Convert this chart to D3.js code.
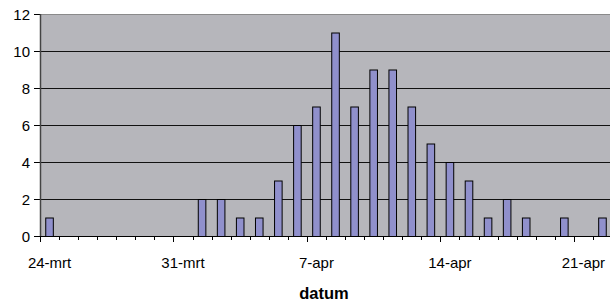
<!DOCTYPE html>
<html>
<head>
<meta charset="utf-8">
<script src="https://cdn.jsdelivr.net/npm/d3@7"></script>
<style>
  body { margin: 0; background: #fff; }
  svg text { font-family: "Liberation Sans", Arial, sans-serif; fill: #000; }
</style>
</head>
<body>
<div class="chart-container"></div>
<script>
// one entry per day, 24-mrt .. 22-apr
var days = ["24-mrt","25-mrt","26-mrt","27-mrt","28-mrt","29-mrt","30-mrt","31-mrt",
            "1-apr","2-apr","3-apr","4-apr","5-apr","6-apr","7-apr","8-apr","9-apr","10-apr",
            "11-apr","12-apr","13-apr","14-apr","15-apr","16-apr","17-apr","18-apr","19-apr",
            "20-apr","21-apr","22-apr"];
var counts = [1,0,0,0,0,0,0,0,2,2,1,1,3,6,7,11,7,9,9,7,5,4,3,1,2,1,0,1,0,1];
var xLabels = ["24-mrt","31-mrt","7-apr","14-apr","21-apr"];
var yTicks = [0,2,4,6,8,10,12];
var xTitle = "datum";

var width = 610, height = 304;
var margin = {top: 14, right: -2, bottom: 68, left: 40},
    plotW = width - margin.left - margin.right,
    plotH = height - margin.top - margin.bottom;

var svg = d3.select(".chart-container")
    .append("svg")
    .attr("width", width)
    .attr("height", height);

var g = svg.append("g")
    .attr("transform", "translate(" + margin.left + "," + margin.top + ")");

var x = d3.scaleBand()
    .domain(days)
    .range([0, plotW])
    .paddingInner(0.55)
    .paddingOuter(0.275);

var y = d3.scaleLinear()
    .domain([0, 12])
    .range([plotH, 0]);

// plot background
g.append("rect")
    .attr("width", plotW)
    .attr("height", plotH)
    .attr("fill", "#b6b6bb");

// gridlines
g.append("g")
    .selectAll("line")
    .data(yTicks.filter(function (d) { return d > 0 && d < 12; }))
    .enter().append("line")
    .attr("x1", 0)
    .attr("x2", plotW)
    .attr("y1", function (d) { return y(d) + 0.5; })
    .attr("y2", function (d) { return y(d) + 0.5; })
    .attr("stroke", "#111")
    .attr("stroke-width", 1);

// top border
g.append("line")
    .attr("x1", 0).attr("x2", plotW)
    .attr("y1", 0.5).attr("y2", 0.5)
    .attr("stroke", "#8a8a8a");

// bars
g.append("g")
    .selectAll("rect")
    .data(days.map(function (d, i) { return {day: d, v: counts[i]}; }).filter(function (d) { return d.v > 0; }))
    .enter().append("rect")
    .attr("x", function (d) { return x(d.day) + 0.5; })
    .attr("y", function (d) { return y(d.v) + 0.5; })
    .attr("width", x.bandwidth() - 1)
    .attr("height", function (d) { return plotH - y(d.v); })
    .attr("fill", "#9090cc")
    .attr("stroke", "#000")
    .attr("stroke-width", 1);

// y axis
var yAxis = g.append("g")
    .call(d3.axisLeft(y).tickValues(yTicks).tickSize(6).tickFormat(d3.format("d")));
yAxis.select(".domain").remove();
yAxis.selectAll(".tick line").attr("stroke", "#000");
yAxis.selectAll(".tick text")
    .attr("x", -10)
    .attr("dy", "0.35em")
    .style("font-size", "15px")
    .style("font-family", "Liberation Sans, Arial, sans-serif");

g.append("line")
    .attr("x1", 0.5).attr("x2", 0.5)
    .attr("y1", 0).attr("y2", plotH)
    .attr("stroke", "#444")
    .attr("stroke-width", 1.5);

// x axis
var step = x.step();
g.append("line")
    .attr("x1", 0).attr("x2", plotW)
    .attr("y1", plotH + 0.5).attr("y2", plotH + 0.5)
    .attr("stroke", "#000");

// tick marks between days, longer every week
g.append("g")
    .selectAll("line")
    .data(d3.range(days.length + 1))
    .enter().append("line")
    .attr("x1", function (i) { return Math.round(i * step) + 0.5; })
    .attr("x2", function (i) { return Math.round(i * step) + 0.5; })
    .attr("y1", plotH)
    .attr("y2", function (i) { return plotH + (i % 7 === 0 ? 6 : 4); })
    .attr("stroke", "#000");

g.append("g")
    .selectAll("text")
    .data(xLabels)
    .enter().append("text")
    .attr("x", function (d) { return x(d) + x.bandwidth() / 2; })
    .attr("y", plotH + 32)
    .attr("text-anchor", "middle")
    .style("font-size", "15px")
    .text(function (d) { return d; });

svg.append("text")
    .attr("x", 324)
    .attr("y", 299)
    .attr("text-anchor", "middle")
    .style("font-size", "16.5px")
    .style("font-weight", "bold")
    .text(xTitle);
</script>
</body>
</html>
